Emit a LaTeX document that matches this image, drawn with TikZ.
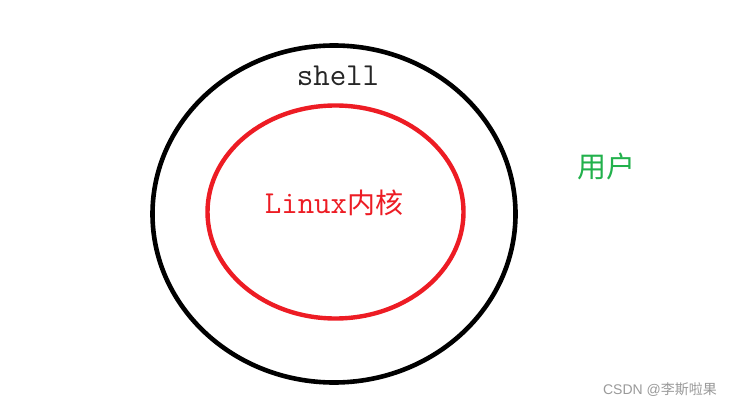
\documentclass[tikz,border=0pt]{standalone}
\usepackage{fontspec}
\usetikzlibrary{shapes.geometric}
\newfontfamily\cjk{Noto Sans CJK SC}
\newfontfamily\wmfont{Liberation Sans}
\definecolor{paintred}{HTML}{ED1C24}
\definecolor{paintgreen}{HTML}{22B14C}
\definecolor{wmgray}{HTML}{9A9A9A}
\tikzset{
  ring/.style={draw, ellipse, inner sep=0pt, outer sep=0pt},
  lbl/.style={inner sep=0pt, anchor=center}
}
\begin{document}
\begin{tikzpicture}[x=1pt,y=-1pt]
\useasboundingbox[fill=white] (0,0) rectangle (743,409);
\node[ring, line width=4.6pt, minimum width=363pt, minimum height=337pt] (outer) at (334,214) {};
\node[ring, draw=paintred, line width=4.4pt, minimum width=256pt, minimum height=213pt] (inner) at (335.5,212) {};
\node[lbl, text=black!85] (shell) at (338,76) {\fontsize{32}{32}\selectfont\ttfamily shell};
\node[lbl, text=paintred] (kernel) at (334,203) {\fontsize{32}{32}\selectfont\ttfamily Linux\cjk\fontsize{28}{28}\selectfont 内核};
\node[lbl, text=paintgreen] (user) at (606,166) {\fontsize{29}{29}\selectfont\cjk 用户};
\node[lbl, text=wmgray] (wm) at (660,390) {\fontsize{14}{14}\selectfont\wmfont CSDN @\cjk 李斯啦果};
\end{tikzpicture}
\end{document}
